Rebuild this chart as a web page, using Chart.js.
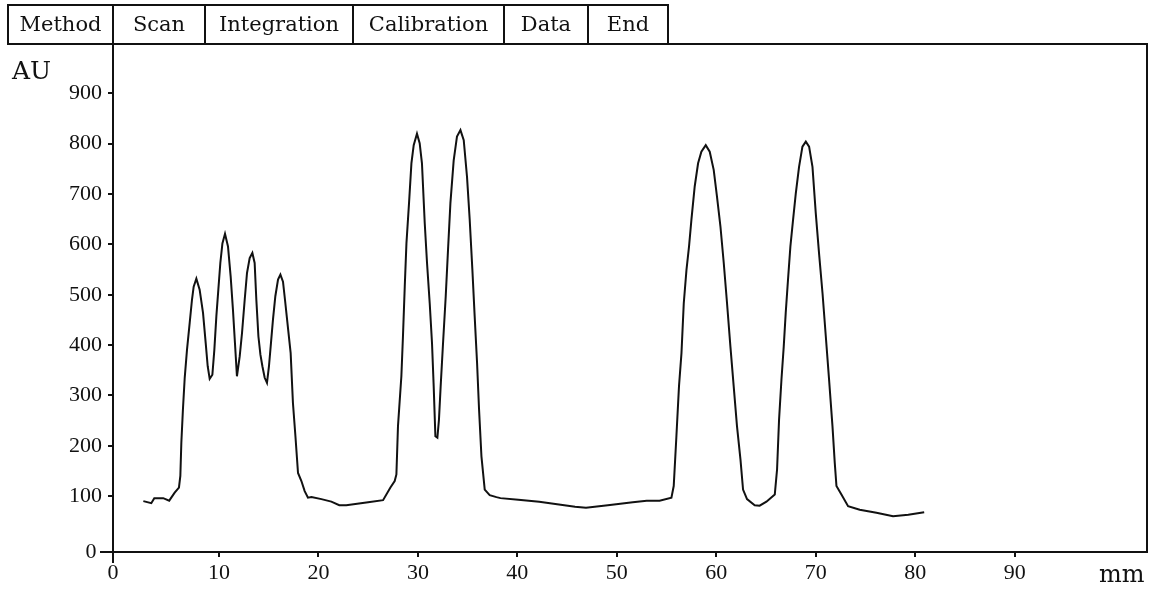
<!DOCTYPE html>
<html><head><meta charset="utf-8">
<script src="https://cdn.jsdelivr.net/npm/chart.js@4.4.1/dist/chart.umd.min.js"></script>
<style>
html,body{margin:0;padding:0;background:#fff;}
#wrap{position:relative;width:1156px;height:592px;overflow:hidden;}
#c{position:absolute;left:0;top:0;}
#menu{position:absolute;left:7px;top:4px;height:37px;border:2px solid #111;display:flex;font-family:"DejaVu Serif",serif;font-size:21px;color:#111;}
#menu div{height:37px;line-height:37px;text-align:center;box-sizing:border-box;}
#menu div+div{border-left:2px solid #111;}
.lab{position:absolute;font-family:"DejaVu Serif",serif;color:#111;line-height:1;white-space:nowrap;}
</style></head>
<body><div id="wrap">
<canvas id="c" width="1156" height="592"></canvas>
<div id="menu"></div>
<div class="lab" id="au" style="left:12px;top:58px;font-size:25px;">AU</div>
<div class="lab" id="mm" style="left:1099px;top:562px;font-size:24px;">mm</div>
</div>
<script>
// Menu labels
const menuItems = ['Method','Scan','Integration','Calibration','Data','End'];
const menuWidths = [103,92,148,151,84,80];

// Axis ticks
const xTickValues = [0,10,20,30,40,50,60,70,80,90];
const yTickValues = [0,100,200,300,400,500,600,700,800,900];
const xMin = -0.65, xMax = 103.3, yMin = -11, yMax = 998;

// Densitometer scan: position (mm) and absorbance (AU)
const positionMm = [2.4,3.2,3.5,4.4,5.0,5.55,5.98,6.12,6.22,6.38,6.56,6.79,7.06,7.29,7.46,7.73,8.06,8.40,8.67,8.87,9.07,9.34,9.54,9.74,9.94,10.14,10.35,10.61,10.91,11.18,11.41,11.61,11.81,12.09,12.32,12.59,12.82,13.09,13.36,13.59,13.76,13.97,14.17,14.37,14.60,14.83,15.03,15.23,15.43,15.67,15.94,16.18,16.44,16.64,16.94,17.21,17.44,17.69,17.95,18.29,18.62,18.95,19.3,20.3,21.3,22.1,22.8,25.0,26.5,27.24,27.67,27.84,28.0,28.34,28.5,28.68,28.85,29.11,29.35,29.58,29.91,30.18,30.41,30.69,30.92,31.19,31.42,31.59,31.76,31.96,32.12,32.29,32.53,32.8,33.03,33.27,33.6,33.93,34.28,34.61,34.94,35.21,35.48,35.71,35.95,36.15,36.39,36.72,37.22,37.9,38.3,40.1,42.2,44.0,45.8,46.9,49.1,51.6,53.0,54.3,55.49,55.72,55.99,56.25,56.5,56.73,57.0,57.26,57.5,57.83,58.17,58.5,58.94,59.34,59.74,60.07,60.42,60.75,61.08,61.42,61.75,62.08,62.43,62.69,63.09,63.86,64.36,65.04,65.88,66.11,66.31,66.55,66.78,66.98,67.21,67.45,67.72,67.99,68.32,68.66,69.0,69.33,69.67,70.0,70.33,70.68,71.01,71.34,71.68,71.91,72.08,72.58,73.25,74.42,76.1,77.77,79.3,80.9];
const absorbanceAU = [90,86,96,96,91,107,117,140,206,272,335,391,444,490,516,532,510,464,404,358,333,341,391,457,510,563,602,621,596,536,470,404,338,378,424,490,543,573,583,563,490,417,381,358,335,325,358,404,450,497,530,540,526,490,434,384,285,219,146,130,110,97,98,94,89,82,82,88,92,117,130,143,239,338,417,516,602,682,761,797,820,801,761,642,563,483,404,318,219,216,252,318,404,497,589,682,767,814,827,807,734,649,549,457,365,272,179,113,102,98,96,93,89,84,79,77,82,88,91,91,97,120,219,318,384,483,549,596,649,715,761,784,797,784,748,695,635,563,483,397,318,239,173,113,94,82,81,89,103,153,252,331,397,464,530,596,649,701,754,794,804,794,754,662,582,503,417,331,239,166,120,103,80,73,67,60,63,68];

const menu = document.getElementById('menu');
menuItems.forEach((t,i)=>{const d=document.createElement('div');d.textContent=t;d.style.width=menuWidths[i]+'px';menu.appendChild(d);});

const ink = '#111';
const tickFont = {family:'"Liberation Serif", serif', size:22};

const framePlugin = {
  id:'frame',
  afterDraw(chart){
    const {ctx, chartArea:a} = chart;
    ctx.save();
    ctx.strokeStyle = ink; ctx.lineWidth = 2;
    ctx.beginPath();
    ctx.moveTo(8, a.top); ctx.lineTo(a.right, a.top); ctx.lineTo(a.right, a.bottom);
    ctx.moveTo(a.left-13, a.bottom); ctx.lineTo(a.left, a.bottom);
    ctx.moveTo(a.left, a.bottom); ctx.lineTo(a.left, a.bottom+11);
    ctx.stroke();
    ctx.restore();
  }
};

new Chart(document.getElementById('c'), {
  type:'line',
  data:{datasets:[{
    data: positionMm.map((x,i)=>({x, y:absorbanceAU[i]})),
    borderColor: ink, borderWidth: 2, pointRadius: 0, tension: 0, fill:false
  }]},
  options:{
    responsive:false, animation:false,
    layout:{padding:{left:0,right:9,top:44,bottom:0}},
    plugins:{legend:{display:false}, tooltip:{enabled:false}},
    scales:{
      x:{
        type:'linear', min:xMin, max:xMax,
        afterBuildTicks: s => { s.ticks = xTickValues.map(v => ({value: v===0 ? xMin : v})); },
        afterFit: s => { s.height = 40; },
        ticks:{callback: v => v===xMin ? '0' : String(v), font:tickFont, color:ink, padding:3, maxRotation:0, autoSkip:false},
        grid:{drawOnChartArea:false, drawTicks:true, tickLength:5, color:ink, lineWidth:2},
        border:{display:true, color:ink, width:2}
      },
      y:{
        type:'linear', min:yMin, max:yMax,
        afterBuildTicks: s => { s.ticks = yTickValues.map(v => ({value: v===0 ? yMin : v})); },
        afterFit: s => { s.width = 113; },
        ticks:{callback: v => v===yMin ? '0 ' : String(v), font:tickFont, color:ink, padding:6, autoSkip:false},
        grid:{drawOnChartArea:false, drawTicks:true, tickLength:5, color:ink, lineWidth:2},
        border:{display:true, color:ink, width:2}
      }
    }
  },
  plugins:[framePlugin]
});
</script>
</body></html>
